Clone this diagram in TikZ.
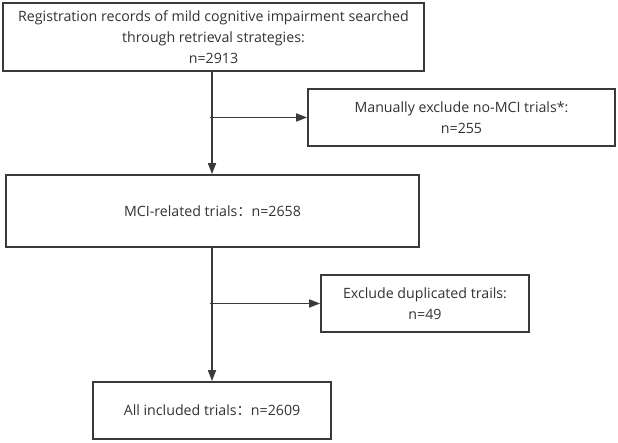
\documentclass[tikz,border=0pt]{standalone}
\usepackage{fontspec}
\setmainfont{Open Sans}
\newfontfamily\cjk{Noto Sans CJK SC}
\usetikzlibrary{arrows.meta}
\definecolor{linec}{HTML}{3A3A3A}
\definecolor{txtc}{HTML}{333333}
\begin{document}
\begin{tikzpicture}[x=1pt,y=-1pt,
  box/.style={draw=linec, line width=1.8pt, fill=white, inner sep=0pt, align=center,
    text=txtc, font=\fontsize{14.2}{21}\selectfont},
  arr/.style={draw=linec, line width=1.7pt, -{Triangle[length=11pt,width=8pt]}}]
\useasboundingbox[fill=white] (0,0) rectangle (618,443);
\node[box, minimum width=421pt, minimum height=68pt] (b1) at (213.5,37)
  {Registration records of mild cognitive impairment searched\\through retrieval strategies:\\n=2913};
\node[box, minimum width=307pt, minimum height=57pt] (b2) at (461.5,117.5)
  {Manually exclude no-MCI trials*:\\n=255};
\node[box, minimum width=413pt, minimum height=72pt] (b3) at (212.5,211)
  {MCI-related trials{\cjk ：}n=2658};
\node[box, minimum width=208pt, minimum height=57pt] (b4) at (425,303.5)
  {Exclude duplicated trails:\\n=49};
\node[box, minimum width=238pt, minimum height=57pt] (b5) at (212,410.5)
  {All included trials{\cjk ：}n=2609};
\coordinate (cx) at (212,0);
\coordinate (cx2) at (210,0);
\draw[arr] (cx |- b1.south) -- (cx |- b3.north);
\draw[arr] (cx2 |- b2.west) -- (b2.west);
\draw[arr] (cx |- b3.south) -- (cx |- b5.north);
\draw[arr] (cx2 |- b4.west) -- (b4.west);
\end{tikzpicture}
\end{document}
